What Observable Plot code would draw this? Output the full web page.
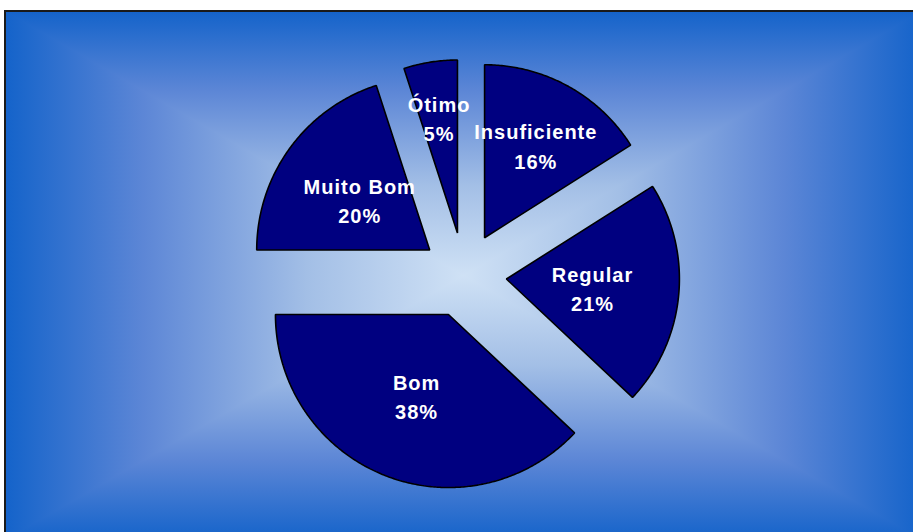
<!DOCTYPE html>
<html>
<head>
<meta charset="utf-8">
<script src="https://cdn.jsdelivr.net/npm/d3@7"></script>
<script src="https://cdn.jsdelivr.net/npm/@observablehq/plot@0.6"></script>
<style>
  html, body { margin: 0; padding: 0; background: #fff; }
  #chart { width: 913px; height: 532px; overflow: hidden; }
</style>
</head>
<body>
<div id="chart"></div>
<script>
// ---- data ----
const categories = ["Insuficiente", "Regular", "Bom", "Muito Bom", "Ótimo"];
const values = [16, 21, 38, 20, 5];
const percentLabels = ["16%", "21%", "38%", "20%", "5%"];

// ---- layout ----
const W = 913, H = 532;
const R = 173;              // pie radius in px
const CX = 463.6, CY = 274.5; // pie centre in px
const EXPLODE = 42.5 / R;   // explosion distance (in radius units)
const labelRadius = { "Insuficiente": 0.615, "Ótimo": 0.68 }; // others 0.5

const data = categories.map((name, i) => ({ name, value: values[i], pct: percentLabels[i] }));
const arcs = d3.pie().sort(null).value(d => d.value)(data);

const slicePoints = [];
const labels = [];
for (const a of arcs) {
  const mid = (a.startAngle + a.endAngle) / 2;
  const ox = EXPLODE * Math.sin(mid), oy = EXPLODE * Math.cos(mid);
  slicePoints.push({ name: a.data.name, x: ox, y: oy });
  const n = Math.max(8, Math.ceil((a.endAngle - a.startAngle) / 0.01));
  for (let k = 0; k <= n; k++) {
    const t = a.startAngle + (a.endAngle - a.startAngle) * k / n;
    slicePoints.push({ name: a.data.name, x: ox + Math.sin(t), y: oy + Math.cos(t) });
  }
  const lr = labelRadius[a.data.name] ?? 0.5;
  labels.push({
    x: ox + lr * Math.sin(mid),
    y: oy + lr * Math.cos(mid),
    text: a.data.name + "\n" + a.data.pct
  });
}

const chart = Plot.plot({
  width: W,
  height: H,
  margin: 0,
  x: { domain: [-CX / R, (W - CX) / R], axis: null },
  y: { domain: [-(H - CY) / R, CY / R], axis: null },
  marks: [
    Plot.line(slicePoints, {
      x: "x", y: "y", z: "name",
      fill: "#000080", stroke: "#000", strokeWidth: 1.6,
      strokeLinejoin: "miter", curve: "linear-closed"
    }),
    Plot.text(labels, {
      x: "x", y: "y", text: "text",
      fill: "white", fontSize: 20, fontWeight: "bold",
      fontFamily: "Liberation Sans, Arial, sans-serif",
      lineHeight: 1.47
    })
  ]
});

// ---- background: rectangular "from centre" gradient + frame ----
const svg = d3.select(chart.tagName.toLowerCase() === "svg" ? chart : chart.querySelector("svg"));
svg.selectAll("text").attr("letter-spacing", "1px");
const L = 5, T = 11, Rr = 922, B = 540;
const gx = (L + Rr) / 2, gy = (T + B) / 2;
const stops = [[0, "#1463ca"], [0.3, "#5c86d6"], [0.66, "#a3bfe6"], [1, "#cfe1f5"]];
const bg = svg.insert("g", ":first-child");
const defs = bg.append("defs");
const grads = [
  { id: "gT", g: [0, T, 0, gy] },
  { id: "gB", g: [0, B, 0, gy] },
  { id: "gL", g: [L, 0, gx, 0] },
  { id: "gR", g: [Rr, 0, gx, 0] }
];
for (const s of grads) {
  const lg = defs.append("linearGradient").attr("id", s.id)
    .attr("gradientUnits", "userSpaceOnUse")
    .attr("x1", s.g[0]).attr("y1", s.g[1]).attr("x2", s.g[2]).attr("y2", s.g[3]);
  for (const [o, c] of stops) lg.append("stop").attr("offset", o).attr("stop-color", c);
}
// left / right halves as full rectangles underneath
bg.append("rect").attr("x", L).attr("y", T).attr("width", gx - L + 1).attr("height", B - T).attr("fill", "url(#gL)");
bg.append("rect").attr("x", gx).attr("y", T).attr("width", Rr - gx).attr("height", B - T).attr("fill", "url(#gR)");
// top / bottom triangles on top
bg.append("polygon").attr("points", [[L, T], [Rr, T], [gx, gy]].map(p => p.join(",")).join(" ")).attr("fill", "url(#gT)");
bg.append("polygon").attr("points", [[L, B], [Rr, B], [gx, gy]].map(p => p.join(",")).join(" ")).attr("fill", "url(#gB)");
bg.append("path").attr("d", `M${L},${B} V${T} H${Rr}`)
  .attr("fill", "none").attr("stroke", "#1a1a1a").attr("stroke-width", 2);

document.getElementById("chart").appendChild(chart);
</script>
</body>
</html>
